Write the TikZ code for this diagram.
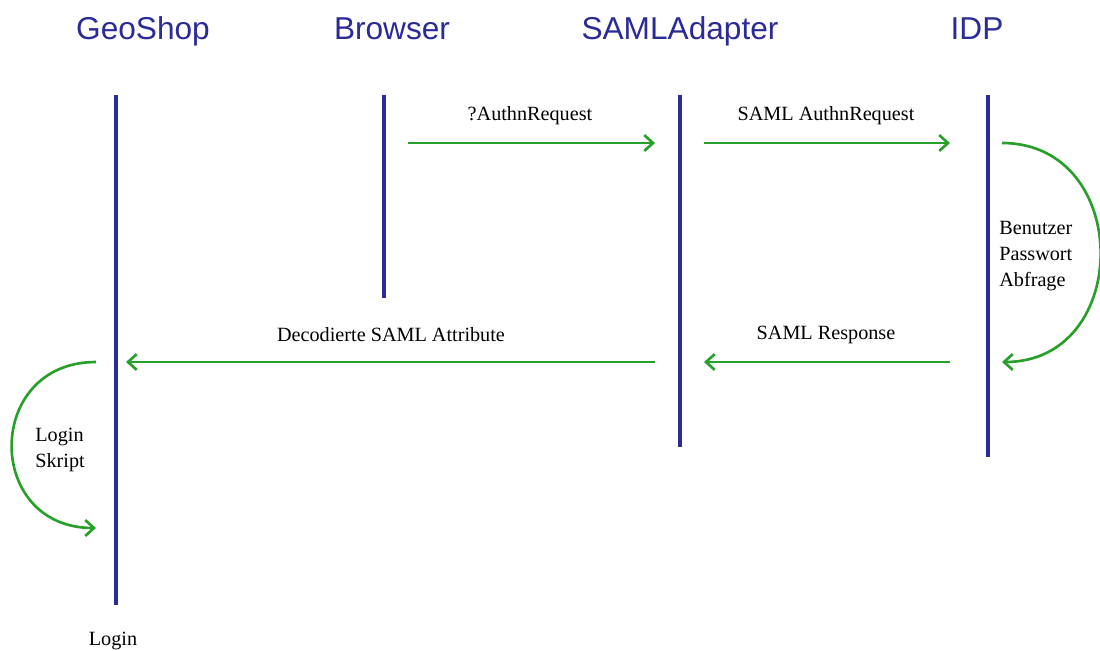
\documentclass[tikz,border=0pt]{standalone}
\usepackage{fontspec}
\setmainfont{Liberation Serif}
\newfontfamily\headfont{Liberation Sans}
\usetikzlibrary{arrows.meta}
\definecolor{lifeblue}{RGB}{42,42,152}
\definecolor{msggreen}{RGB}{38,160,40}
\tikzset{
  lifeline/.style={draw=lifeblue, line width=2.4pt},
  head/.style={text=lifeblue, anchor=base, font=\headfont\fontsize{18}{20}\selectfont},
  msg/.style={draw=msggreen, line width=1.5pt, -{Straight Barb[length=5pt,width=9pt,line width=1.5pt]}},
  lbl/.style={font=\fontsize{11.5}{15}\selectfont, inner sep=0pt},
}
\begin{document}
\begin{tikzpicture}[x=0.02cm, y=-0.02cm]
  \useasboundingbox (0,0) rectangle (1100,650);
  % headers
  \node[head] (hgeo) at (143,39) {GeoShop};
  \node[head] (hbrow) at (392,39) {Browser};
  \node[head] (hsaml) at (680,39) {SAMLAdapter};
  \node[head] (hidp) at (977,39) {IDP};
  % lifelines
  \foreach \n/\x/\e in {geo/116/605, brow/384/298, saml/680/447, idp/988/457} {
    \coordinate (\n top) at (\x,95);
    \coordinate (\n bot) at (\x,\e);
    \draw[lifeline] (\n top) -- (\n bot);
  }
  % message ends
  \coordinate (m1a) at (408,143);
  \coordinate (m1b) at (655,143);
  \coordinate (m2a) at (704,143);
  \coordinate (m2b) at (950,143);
  \coordinate (m3a) at (950,362);
  \coordinate (m3b) at (704,362);
  \coordinate (m4a) at (655,362);
  \coordinate (m4b) at (126,362);
  \coordinate (idpa) at (1002,143);
  \coordinate (idpb) at (1002,362);
  \coordinate (loga) at (96,362);
  \coordinate (logb) at (96,528);
  % messages
  \draw[msg] (m1a) -- (m1b);
  \draw[msg] (m2a) -- (m2b);
  \draw[msg] (m3a) -- (m3b);
  \draw[msg] (m4a) -- (m4b);
  \draw[msg] (idpa) .. controls +(131,0) and +(131,0) .. (idpb);
  \draw[msg] (loga) .. controls +(-112,0) and +(-112,0) .. (logb);
  % labels
  \node[lbl] (l1) at (530,116) {?AuthnRequest};
  \node[lbl] (l2) at (826,116) {SAML AuthnRequest};
  \node[lbl] (l3) at (826,335) {SAML Response};
  \node[lbl] (l4) at (391,335) {Decodierte SAML Attribute};
  \node[lbl, anchor=west, align=left] (lidp) at (999,256) {Benutzer\\Passwort\\Abfrage};
  \node[lbl, anchor=west, align=left] (llog) at (35,450) {Login\\Skript};
  \node[lbl] (lend) at (113,641) {Login};
\end{tikzpicture}
\end{document}
